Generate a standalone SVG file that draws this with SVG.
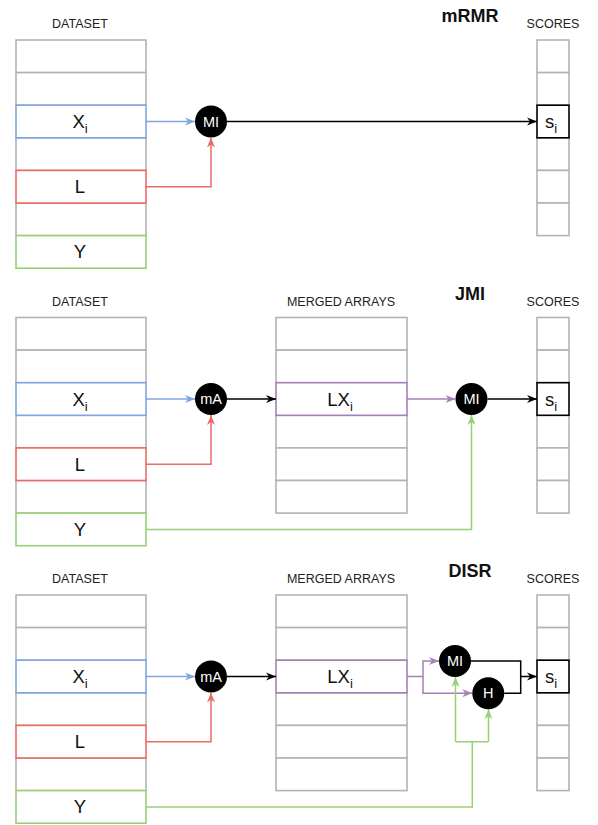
<svg xmlns="http://www.w3.org/2000/svg" width="598" height="825" viewBox="0 0 598 825">
<style>
.bg{fill:#ffffff}
.cell{fill:#ffffff;stroke:#b3b3b3;stroke-width:1.6}
.blue{fill:#ffffff;stroke:#7ea6e0;stroke-width:1.6}
.red{fill:#ffffff;stroke:#ea6b66;stroke-width:1.6}
.green{fill:#ffffff;stroke:#97d077;stroke-width:1.6}
.purple{fill:#ffffff;stroke:#a680b8;stroke-width:1.6}
.black{fill:#ffffff;stroke:#000000;stroke-width:1.6}
.hdr{font-family:"Liberation Sans",Arial,sans-serif;font-size:12.5px;fill:#222;text-anchor:middle}
.title{font-family:"Liberation Sans",Arial,sans-serif;font-size:18px;font-weight:bold;fill:#111;text-anchor:middle}
.val{font-family:"Liberation Sans",Arial,sans-serif;font-size:18.5px;fill:#111;text-anchor:middle}
.sub{font-size:13px}
.op{fill:#000000}
.opt{font-family:"Liberation Sans",Arial,sans-serif;font-size:14.5px;fill:#ffffff;text-anchor:middle}
.c{fill:none;stroke-width:1.5}
.cb{stroke:#7ea6e0}.cr{stroke:#ea6b66}.cg{stroke:#97d077}.cp{stroke:#a680b8}.ck{stroke:#000000}
</style>
<defs>
<marker id="ab" viewBox="0 0 10 10" refX="10" refY="5" markerWidth="10" markerHeight="10" markerUnits="userSpaceOnUse" orient="auto"><path d="M0,1 L10,5 L0,9 L3,5 z" fill="#7ea6e0"/></marker>
<marker id="ar" viewBox="0 0 10 10" refX="10" refY="5" markerWidth="10" markerHeight="10" markerUnits="userSpaceOnUse" orient="auto"><path d="M0,1 L10,5 L0,9 L3,5 z" fill="#ea6b66"/></marker>
<marker id="ag" viewBox="0 0 10 10" refX="10" refY="5" markerWidth="10" markerHeight="10" markerUnits="userSpaceOnUse" orient="auto"><path d="M0,1 L10,5 L0,9 L3,5 z" fill="#97d077"/></marker>
<marker id="ap" viewBox="0 0 10 10" refX="10" refY="5" markerWidth="10" markerHeight="10" markerUnits="userSpaceOnUse" orient="auto"><path d="M0,1 L10,5 L0,9 L3,5 z" fill="#a680b8"/></marker>
<marker id="ak" viewBox="0 0 10 10" refX="10" refY="5" markerWidth="10" markerHeight="10" markerUnits="userSpaceOnUse" orient="auto"><path d="M0,1 L10,5 L0,9 L3,5 z" fill="#000000"/></marker>
</defs>
<rect class="bg" x="0" y="0" width="598" height="825"/>

<!-- ===== Panel 1: mRMR ===== -->
<text class="title" x="470" y="22">mRMR</text>
<g id="dataset1">
<text class="hdr" x="80" y="28">DATASET</text>
<rect class="cell" x="16" y="40" width="130" height="32.6"/>
<rect class="cell" x="16" y="72.6" width="130" height="32.6"/>
<rect class="cell" x="16" y="137.8" width="130" height="32.6"/>
<rect class="cell" x="16" y="203" width="130" height="32.6"/>
<rect class="blue" x="16" y="105.2" width="130" height="32.6"/>
<rect class="red" x="16" y="170.4" width="130" height="32.6"/>
<rect class="green" x="16" y="235.6" width="130" height="32.6"/>
<text class="val" x="80" y="128">X<tspan class="sub" dy="5">i</tspan></text>
<text class="val" x="80" y="193">L</text>
<text class="val" x="80" y="258">Y</text>
</g>
<g id="scores1">
<text class="hdr" x="553" y="28">SCORES</text>
<rect class="cell" x="537" y="40" width="32" height="32.6"/>
<rect class="cell" x="537" y="72.6" width="32" height="32.6"/>
<rect class="cell" x="537" y="137.8" width="32" height="32.6"/>
<rect class="cell" x="537" y="170.4" width="32" height="32.6"/>
<rect class="cell" x="537" y="203" width="32" height="32.6"/>
<rect class="black" x="537" y="105.2" width="32" height="32.6"/>
<text class="val" x="551" y="128">s<tspan class="sub" dy="5">i</tspan></text>
</g>
<g id="mi1">
<circle class="op" cx="211" cy="121.5" r="16"/>
<text class="opt" x="211" y="126.5">MI</text>
</g>

<!-- ===== Panel 2: JMI ===== -->
<text class="title" x="470" y="299.5">JMI</text>
<g id="dataset2">
<text class="hdr" x="80" y="305.5">DATASET</text>
<rect class="cell" x="16" y="317.5" width="130" height="32.6"/>
<rect class="cell" x="16" y="350.1" width="130" height="32.6"/>
<rect class="cell" x="16" y="415.3" width="130" height="32.6"/>
<rect class="cell" x="16" y="480.5" width="130" height="32.6"/>
<rect class="blue" x="16" y="382.7" width="130" height="32.6"/>
<rect class="red" x="16" y="447.9" width="130" height="32.6"/>
<rect class="green" x="16" y="513.1" width="130" height="32.6"/>
<text class="val" x="80" y="405.5">X<tspan class="sub" dy="5">i</tspan></text>
<text class="val" x="80" y="470.5">L</text>
<text class="val" x="80" y="535.5">Y</text>
</g>
<g id="merged2">
<text class="hdr" x="341" y="305.5">MERGED ARRAYS</text>
<rect class="cell" x="276" y="317.5" width="131" height="32.6"/>
<rect class="cell" x="276" y="350.1" width="131" height="32.6"/>
<rect class="cell" x="276" y="415.3" width="131" height="32.6"/>
<rect class="cell" x="276" y="447.9" width="131" height="32.6"/>
<rect class="cell" x="276" y="480.5" width="131" height="32.6"/>
<rect class="purple" x="276" y="382.7" width="131" height="32.6"/>
<text class="val" x="340" y="405.5">LX<tspan class="sub" dy="5">i</tspan></text>
</g>
<g id="scores2">
<text class="hdr" x="553" y="305.5">SCORES</text>
<rect class="cell" x="537" y="317.5" width="32" height="32.6"/>
<rect class="cell" x="537" y="350.1" width="32" height="32.6"/>
<rect class="cell" x="537" y="415.3" width="32" height="32.6"/>
<rect class="cell" x="537" y="447.9" width="32" height="32.6"/>
<rect class="cell" x="537" y="480.5" width="32" height="32.6"/>
<rect class="black" x="537" y="382.7" width="32" height="32.6"/>
<text class="val" x="551" y="405.5">s<tspan class="sub" dy="5">i</tspan></text>
</g>
<g id="ma2">
<circle class="op" cx="211" cy="399" r="16"/>
<text class="opt" x="211" y="404">mA</text>
</g>
<g id="mi2">
<circle class="op" cx="471.5" cy="399" r="16"/>
<text class="opt" x="471.5" y="404">MI</text>
</g>

<!-- ===== Panel 3: DISR ===== -->
<text class="title" x="470" y="577">DISR</text>
<g id="dataset3">
<text class="hdr" x="80" y="583">DATASET</text>
<rect class="cell" x="16" y="595" width="130" height="32.6"/>
<rect class="cell" x="16" y="627.6" width="130" height="32.6"/>
<rect class="cell" x="16" y="692.8" width="130" height="32.6"/>
<rect class="cell" x="16" y="758" width="130" height="32.6"/>
<rect class="blue" x="16" y="660.2" width="130" height="32.6"/>
<rect class="red" x="16" y="725.4" width="130" height="32.6"/>
<rect class="green" x="16" y="790.6" width="130" height="32.6"/>
<text class="val" x="80" y="683">X<tspan class="sub" dy="5">i</tspan></text>
<text class="val" x="80" y="748">L</text>
<text class="val" x="80" y="813">Y</text>
</g>
<g id="merged3">
<text class="hdr" x="341" y="583">MERGED ARRAYS</text>
<rect class="cell" x="276" y="595" width="131" height="32.6"/>
<rect class="cell" x="276" y="627.6" width="131" height="32.6"/>
<rect class="cell" x="276" y="692.8" width="131" height="32.6"/>
<rect class="cell" x="276" y="725.4" width="131" height="32.6"/>
<rect class="cell" x="276" y="758" width="131" height="32.6"/>
<rect class="purple" x="276" y="660.2" width="131" height="32.6"/>
<text class="val" x="340" y="683">LX<tspan class="sub" dy="5">i</tspan></text>
</g>
<g id="scores3">
<text class="hdr" x="553" y="583">SCORES</text>
<rect class="cell" x="537" y="595" width="32" height="32.6"/>
<rect class="cell" x="537" y="627.6" width="32" height="32.6"/>
<rect class="cell" x="537" y="692.8" width="32" height="32.6"/>
<rect class="cell" x="537" y="725.4" width="32" height="32.6"/>
<rect class="cell" x="537" y="758" width="32" height="32.6"/>
<rect class="black" x="537" y="660.2" width="32" height="32.6"/>
<text class="val" x="551" y="683">s<tspan class="sub" dy="5">i</tspan></text>
</g>
<g id="ma3">
<circle class="op" cx="211" cy="676.5" r="16"/>
<text class="opt" x="211" y="681.5">mA</text>
</g>

<!-- connectors -->
<g id="connectors">
<!-- panel 1 -->
<path class="c cb" d="M146,121.5 H195" marker-end="url(#ab)"/>
<path class="c cr" d="M146,186.7 H211 V137.5" marker-end="url(#ar)"/>
<path class="c ck" d="M227,121.5 H537" marker-end="url(#ak)"/>
<!-- panel 2 -->
<path class="c cb" d="M146,399 H195" marker-end="url(#ab)"/>
<path class="c cr" d="M146,464.2 H211 V415" marker-end="url(#ar)"/>
<path class="c ck" d="M227,399 H276" marker-end="url(#ak)"/>
<path class="c cp" d="M407,399 H455.5" marker-end="url(#ap)"/>
<path class="c ck" d="M487.5,399 H537" marker-end="url(#ak)"/>
<path class="c cg" d="M146,529.4 H471.5 V415" marker-end="url(#ag)"/>
<!-- panel 3 -->
<path class="c cb" d="M146,676.5 H195" marker-end="url(#ab)"/>
<path class="c cr" d="M146,741.7 H211 V692.5" marker-end="url(#ar)"/>
<path class="c ck" d="M227,676.5 H276" marker-end="url(#ak)"/>
<path class="c cp" d="M407,676.5 H423 V661 H439" marker-end="url(#ap)"/>
<path class="c cp" d="M423,676.5 V693.2 H472.3" marker-end="url(#ap)"/>
<path class="c ck" d="M471,661 H520.7 V676.5 H537" marker-end="url(#ak)"/>
<path class="c ck" d="M504.3,693.2 H520.7 V676.5"/>
<path class="c cg" d="M146,807 H472.3 V741.7"/>
<path class="c cg" d="M455.5,741.7 H488.5"/>
<path class="c cg" d="M455.5,741.7 V677" marker-end="url(#ag)"/>
<path class="c cg" d="M488.5,741.7 V709.2" marker-end="url(#ag)"/>
</g>

<g id="mi3">
<circle class="op" cx="455" cy="661" r="16"/>
<text class="opt" x="455" y="666">MI</text>
</g>
<g id="h3">
<circle class="op" cx="488.3" cy="693.2" r="16"/>
<text class="opt" x="488.3" y="698.2">H</text>
</g>
</svg>
